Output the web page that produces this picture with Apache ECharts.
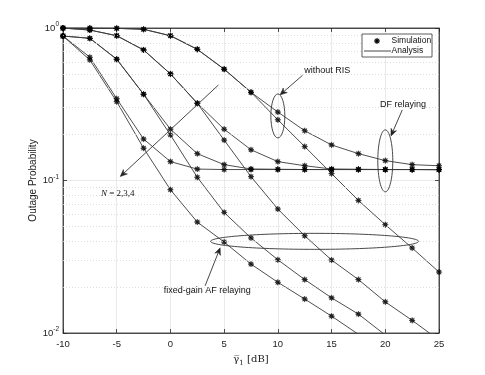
<!DOCTYPE html>
<html>
<head>
<meta charset="utf-8">
<script src="https://cdn.jsdelivr.net/npm/echarts@6/dist/echarts.min.js"></script>
<style>
  html, body { margin: 0; padding: 0; background: #fff; }
  #chart { width: 485px; height: 375px; }
</style>
</head>
<body>
<div id="chart"></div>
<script>
// average SNR (dB)
var snr = [-10, -7.5, -5, -2.5, 0, 2.5, 5, 7.5, 10, 12.5, 15, 17.5, 20, 22.5, 25];

// outage probability
var noRisDF = [0.999, 0.998, 0.995, 0.981, 0.890, 0.725, 0.537, 0.379, 0.281, 0.212, 0.171, 0.150, 0.135, 0.127, 0.125];
var noRisAF = [0.999, 0.998, 0.995, 0.981, 0.890, 0.725, 0.537, 0.379, 0.250, 0.167, 0.111, 0.074, 0.0513, 0.0361, 0.0251];
var df2 = [0.999, 0.970, 0.890, 0.718, 0.500, 0.321, 0.217, 0.159, 0.133, 0.125, 0.119, 0.1185, 0.118, 0.118, 0.1178];
var af2 = [0.999, 0.970, 0.890, 0.718, 0.500, 0.321, 0.184, 0.106, 0.065, 0.0434, 0.0301, 0.0224, 0.0160, 0.0121, 0.0090];
var df3 = [0.886, 0.856, 0.624, 0.368, 0.217, 0.150, 0.127, 0.119, 0.1185, 0.118, 0.118, 0.118, 0.118, 0.118, 0.1178];
var af3 = [0.886, 0.856, 0.624, 0.368, 0.199, 0.105, 0.0617, 0.0420, 0.0302, 0.0224, 0.0170, 0.0133, 0.0097, null, null];
var df4 = [0.886, 0.643, 0.344, 0.187, 0.133, 0.1188, 0.118, 0.118, 0.118, 0.118, 0.118, 0.118, 0.118, 0.118, 0.1178];
var af4 = [0.886, 0.617, 0.329, 0.163, 0.087, 0.0534, 0.0395, 0.0283, 0.0215, 0.0167, 0.0129, 0.0098, null, null, null];

var curves = [noRisDF, noRisAF, df2, af2, df3, af3, df4, af4];
var minorTicks = [0.02, 0.03, 0.04, 0.05, 0.06, 0.07, 0.08, 0.09, 0.2, 0.3, 0.4, 0.5, 0.6, 0.7, 0.8, 0.9];
var xTicks = [-10, 25, 5];

// annotations in data coordinates [dB, P]
var notes = {
    risText: [14.6, 0.523], risFrom: [12.3, 0.49], risTip: [10.2, 0.364], risEll: [10, 0.265],
    dfText: [21.65, 0.313], dfFrom: [21.58, 0.29], dfTip: [20.53, 0.196], dfEll: [20, 0.1346],
    nFrom: [4.47, 0.423], nTip: [-4.67, 0.1062], nText: [-4.9, 0.0814],
    afEll: [13.42, 0.0399], afFrom: [3.23, 0.0204], afTip: [4.63, 0.0362], afText: [3.42, 0.019]
};

// asterisk-like marker outline (unit radius 10)
var starPts = [[10, 0], [4.6, 1.9], [7.07, 7.07], [1.9, 4.6], [0, 10], [-1.9, 4.6], [-7.07, 7.07], [-4.6, 1.9],
               [-10, 0], [-4.6, -1.9], [-7.07, -7.07], [-1.9, -4.6], [0, -10], [1.9, -4.6], [7.07, -7.07], [4.6, -1.9]];
var star = 'path://M' + starPts.map(function (p) { return p[0] + ',' + p[1]; }).join(' L') + ' Z';

function pairs(arr) {
    var out = [];
    for (var i = 0; i < snr.length; i++) {
        if (arr[i] != null) out.push([snr[i], arr[i]]);
    }
    return out;
}

var series = [];
curves.forEach(function (c, i) {
    var s = {
        name: 'Analysis',
        type: 'line',
        data: pairs(c),
        symbol: 'none',
        lineStyle: { color: '#3a3a3a', width: 0.9 },
        itemStyle: { color: '#3a3a3a' },
        silent: true,
        z: 3
    };
    if (i === 0) {
        s.markLine = {
            silent: true,
            symbol: 'none',
            label: { show: false },
            lineStyle: { color: '#d4d4d4', type: [1, 2], width: 0.8 },
            data: minorTicks.map(function (v) { return { yAxis: v }; })
        };
    }
    series.push(s);
});
curves.forEach(function (c) {
    series.push({
        name: 'Simulation',
        type: 'scatter',
        data: pairs(c),
        symbol: star,
        symbolSize: 6,
        itemStyle: { color: '#000', borderColor: '#000', borderWidth: 0.5 },
        silent: true,
        z: 4
    });
});

var frame = { lineStyle: { color: '#262626', width: 0.8 }, onZero: false };
var ticks = { inside: true, length: 4, lineStyle: { color: '#262626', width: 0.8 } };

var myChart = echarts.init(document.getElementById('chart'));
var option = {
    backgroundColor: '#fff',
    animation: false,
    grid: {
        left: 63, right: 46, top: 28, bottom: 42,
        show: true, borderColor: '#262626', borderWidth: 0.8, backgroundColor: 'transparent'
    },
    xAxis: [{
        type: 'value',
        min: xTicks[0], max: xTicks[1], interval: xTicks[2],
        name: '{g|γ̅}{s|1} {t|[dB]}',
        nameLocation: 'middle', nameGap: 20,
        nameTextStyle: {
            rich: {
                g: { fontFamily: 'DejaVu Serif', fontSize: 10, color: '#222' },
                s: { fontFamily: 'DejaVu Serif', fontSize: 7, color: '#222', padding: [6, 0, 0, 0] },
                t: { fontFamily: 'DejaVu Serif', fontSize: 10, color: '#222' }
            }
        },
        axisLine: frame,
        axisTick: ticks,
        axisLabel: { fontFamily: 'Liberation Sans', fontSize: 9.5, color: '#222', margin: 6 },
        splitLine: { show: true, lineStyle: { color: '#e4e4e4', width: 0.8 } }
    }, {
        type: 'value', position: 'top',
        min: xTicks[0], max: xTicks[1], interval: xTicks[2],
        axisLine: frame, axisTick: ticks,
        axisLabel: { show: false }, splitLine: { show: false }
    }],
    yAxis: [{
        type: 'log', logBase: 10, min: 0.01, max: 1,
        name: 'Outage Probability',
        nameLocation: 'middle', nameGap: 25, nameMoveOverlap: false,
        nameTextStyle: { fontFamily: 'Liberation Sans', fontSize: 10, color: '#222' },
        axisLine: frame,
        axisTick: ticks,
        axisLabel: {
            margin: 4,
            formatter: function (v) {
                return '{b|10}{e|' + Math.round(Math.log10(v)) + '}';
            },
            rich: {
                b: { fontFamily: 'Liberation Sans', fontSize: 9.5, color: '#222' },
                e: { fontFamily: 'Liberation Sans', fontSize: 6.5, color: '#222', padding: [0, 0, 7, 0] }
            }
        },
        splitLine: { show: true, lineStyle: { color: '#e4e4e4', width: 0.8 } }
    }, {
        type: 'log', logBase: 10, min: 0.01, max: 1, position: 'right',
        axisLine: frame, axisTick: ticks,
        axisLabel: { show: false }, splitLine: { show: false }
    }],
    series: series
};
myChart.setOption(option);

// annotations and legend box
function px(p) { return myChart.convertToPixel({ xAxisIndex: 0, yAxisIndex: 0 }, p); }

function arrow(from, tip) {
    var a = px(from), b = px(tip);
    var dx = b[0] - a[0], dy = b[1] - a[1];
    var len = Math.sqrt(dx * dx + dy * dy);
    var ux = dx / len, uy = dy / len, nx = -uy, ny = ux;
    var L = 7, W = 3;
    var back = [b[0] - ux * L, b[1] - uy * L];
    var notch = [b[0] - ux * L * 0.7, b[1] - uy * L * 0.7];
    return [
        { type: 'line', silent: true, z: 10, shape: { x1: a[0], y1: a[1], x2: notch[0], y2: notch[1] },
          style: { stroke: '#333', lineWidth: 0.9 } },
        { type: 'polygon', silent: true, z: 10,
          shape: { points: [b, [back[0] + nx * W, back[1] + ny * W], notch, [back[0] - nx * W, back[1] - ny * W]] },
          style: { fill: '#222', stroke: '#222', lineWidth: 0.5 } }
    ];
}

function ellipse(c, rx, ry) {
    var p = px(c);
    return { type: 'ellipse', silent: true, z: 10, shape: { cx: p[0], cy: p[1], rx: rx, ry: ry },
             style: { fill: 'none', stroke: '#333', lineWidth: 0.9 } };
}

function label(c, txt, font, rich) {
    var p = px(c);
    return { type: 'text', silent: true, z: 10, x: p[0], y: p[1],
             style: { text: txt, font: font, fill: '#111', align: 'center', verticalAlign: 'middle', rich: rich } };
}

var sans = '9px "Liberation Sans"';
var g = [];
g.push(label(notes.risText, 'without RIS', sans));
g = g.concat(arrow(notes.risFrom, notes.risTip));
g.push(ellipse(notes.risEll, 7, 22));
g.push(label(notes.dfText, 'DF relaying', sans));
g = g.concat(arrow(notes.dfFrom, notes.dfTip));
g.push(ellipse(notes.dfEll, 7.5, 31));
g = g.concat(arrow(notes.nFrom, notes.nTip));
g.push(label(notes.nText, '{i|N} = 2,3,4', '9px "Liberation Serif"',
    { i: { fontStyle: 'italic', fontFamily: 'Liberation Serif', fontSize: 9 } }));
g.push(ellipse(notes.afEll, 104, 8));
g = g.concat(arrow(notes.afFrom, notes.afTip));
g.push(label(notes.afText, 'fixed-gain AF relaying', sans));

// legend, drawn MATLAB style in the upper right corner
var legFont = '8.5px "Liberation Sans"';
var gr = myChart.getModel().getComponent('grid', 0).coordinateSystem.getRect();
var lx = gr.x + gr.width - 77, ly = gr.y + 6;
g.push({ type: 'rect', silent: true, z: 20, shape: { x: lx, y: ly, width: 70, height: 23 },
         style: { fill: '#fff', stroke: '#333', lineWidth: 0.8 } });
g.push({ type: 'polygon', silent: true, z: 21,
         shape: { points: starPts.map(function (p) { return [lx + 15 + p[0] * 0.3, ly + 7 + p[1] * 0.3]; }) },
         style: { fill: '#000', stroke: '#000', lineWidth: 0.5 } });
g.push({ type: 'line', silent: true, z: 21, shape: { x1: lx + 2, y1: ly + 17, x2: lx + 29, y2: ly + 17 },
         style: { stroke: '#333', lineWidth: 0.9 } });
g.push({ type: 'text', silent: true, z: 21, x: lx + 29.5, y: ly + 7,
         style: { text: 'Simulation', font: legFont, fill: '#111', verticalAlign: 'middle' } });
g.push({ type: 'text', silent: true, z: 21, x: lx + 29.5, y: ly + 17,
         style: { text: 'Analysis', font: legFont, fill: '#111', verticalAlign: 'middle' } });

myChart.setOption({ graphic: g });
</script>
</body>
</html>
